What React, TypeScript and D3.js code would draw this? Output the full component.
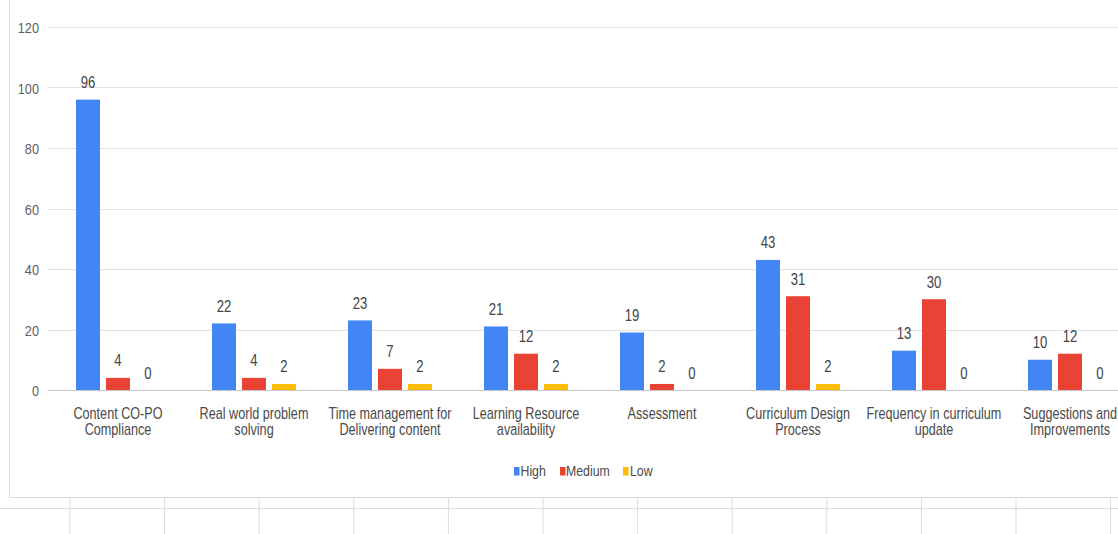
import React from "react";
import * as d3 from "d3";

const categories: string[][] = [
  ["Content CO-PO", "Compliance"],
  ["Real world problem", "solving"],
  ["Time management for", "Delivering content"],
  ["Learning Resource", "availability"],
  ["Assessment"],
  ["Curriculum Design", "Process"],
  ["Frequency in curriculum", "update"],
  ["Suggestions and", "Improvements"],
];

const seriesNames = ["High", "Medium", "Low"];
const seriesColors = ["#4285F4", "#EA4335", "#FBBC04"];

const highValues = [96, 22, 23, 21, 19, 43, 13, 10];
const mediumValues = [4, 4, 7, 12, 2, 31, 30, 12];
const lowValues = [0, 2, 2, 2, 0, 2, 0, 0];

const yTicks = [0, 20, 40, 60, 80, 100, 120];

const W = 1118;
const H = 534;
const FONT = "Arial, 'Liberation Sans', sans-serif";

// text squeezed horizontally, like the screenshot
const Txt: React.FC<{
  x: number;
  y: number;
  size: number;
  sx: number;
  anchor?: string;
  fill: string;
  children: React.ReactNode;
}> = ({ x, y, size, sx, anchor = "middle", fill, children }) => (
  <text
    transform={`translate(${x},${y}) scale(${sx},1)`}
    fontSize={size}
    fontFamily={FONT}
    textAnchor={anchor}
    fill={fill}
  >
    {children}
  </text>
);

export default function App() {
  const series = [highValues, mediumValues, lowValues];
  const keys = categories.map((c) => c.join(" "));

  const y = d3.scaleLinear().domain([0, 120]).range([390, 27]);
  const x0 = d3.scaleBand<string>().domain(keys).range([50, 1138]).padding(0);
  const groupW = 84;
  const x1 = d3
    .scaleBand<string>()
    .domain(seriesNames)
    .range([0, groupW])
    .paddingInner(0.2);

  // legend layout
  const legendItems = [
    { name: "High", sq: 514, tx: 520.5 },
    { name: "Medium", sq: 560, tx: 566 },
    { name: "Low", sq: 623, tx: 630 },
  ];

  const sheetCols = d3.range(12).map((i) => 70 + i * 94.6);

  return (
    <svg
      width={W}
      height={H}
      style={{ position: "absolute", left: 0, top: 0, background: "#fff" }}
    >
      {/* spreadsheet cells below the chart */}
      <line x1={0} x2={W} y1={508.5} y2={508.5} stroke="#dcdcdc" />
      {sheetCols.map((cx, i) => (
        <line key={i} x1={cx} x2={cx} y1={497} y2={H} stroke="#dcdcdc" />
      ))}
      {/* chart border */}
      <line x1={9.5} x2={9.5} y1={0} y2={497.5} stroke="#d9d9d9" />
      <line x1={9.5} x2={W} y1={497.5} y2={497.5} stroke="#d9d9d9" />

      {/* gridlines + y labels */}
      {yTicks.map((t) => (
        <g key={t}>
          <line
            x1={48}
            x2={W}
            y1={Math.round(y(t)) + 0.5}
            y2={Math.round(y(t)) + 0.5}
            stroke={t === 0 ? "#c8c8c8" : "#e0e0e0"}
          />
          <Txt x={39} y={y(t) + 6} size={15} sx={0.85} anchor="end" fill="#5f5f5f">
            {t}
          </Txt>
        </g>
      ))}

      {/* bars */}
      {categories.map((c, ci) => {
        const gx = x0(keys[ci])! + (x0.bandwidth() - groupW) / 2;
        return (
          <g key={ci}>
            {series.map((vals, si) => {
              const v = vals[ci];
              const bx = gx + x1(seriesNames[si])!;
              return (
                <g key={si}>
                  {v > 0 && (
                    <rect
                      x={bx}
                      y={y(v)}
                      width={x1.bandwidth()}
                      height={y(0) - y(v)}
                      fill={seriesColors[si]}
                    />
                  )}
                  <Txt
                    x={bx + x1.bandwidth() / 2}
                    y={y(v) - 11.5}
                    size={16}
                    sx={0.82}
                    fill="#444"
                  >
                    {v}
                  </Txt>
                </g>
              );
            })}
            {c.map((line, li) => (
              <Txt
                key={li}
                x={x0(keys[ci])! + x0.bandwidth() / 2}
                y={y(0) + 28.5 + li * 16}
                size={16}
                sx={0.79}
                fill="#4a4a4a"
              >
                {line}
              </Txt>
            ))}
          </g>
        );
      })}

      {/* legend */}
      {legendItems.map((it, i) => (
        <g key={it.name}>
          <rect x={it.sq} y={467} width={5.5} height={8.5} fill={seriesColors[i]} />
          <Txt x={it.tx} y={475.5} size={14} sx={0.88} anchor="start" fill="#4a4a4a">
            {it.name}
          </Txt>
        </g>
      ))}
    </svg>
  );
}
